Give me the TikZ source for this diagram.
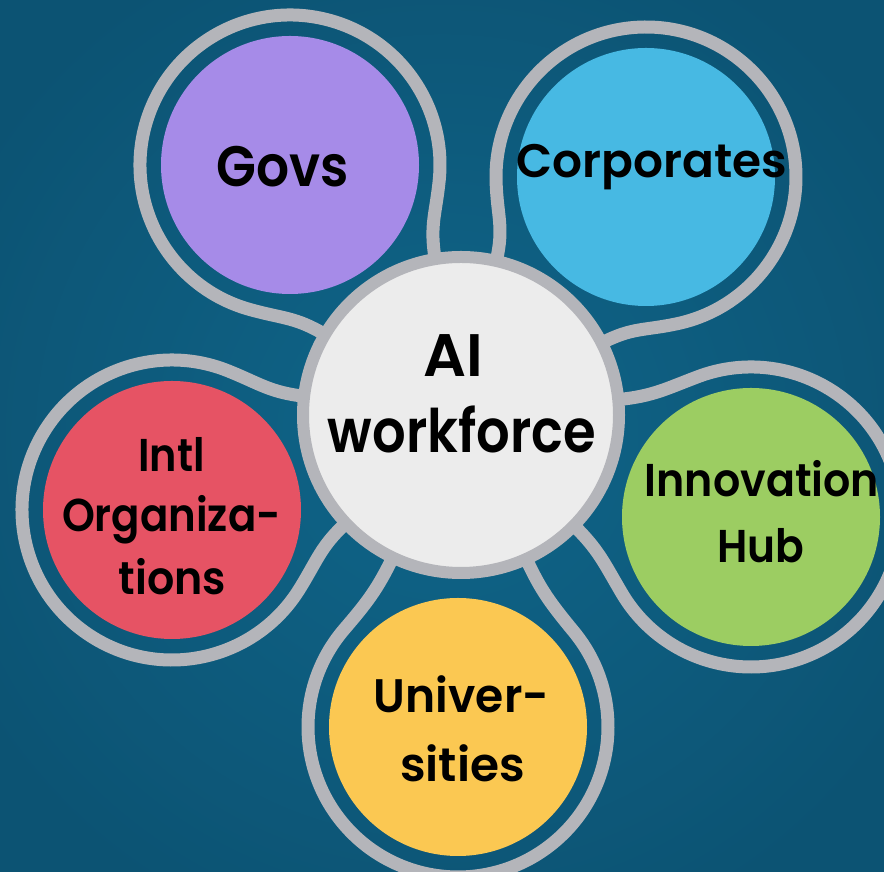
\documentclass[tikz,border=0pt]{standalone}
\usepackage{fontspec}
\setmainfont{Poppins}[UprightFont=* SemiBold, BoldFont=* Bold]
\usetikzlibrary{calc}
\definecolor{bgin}{HTML}{0F6589}
\definecolor{bgout}{HTML}{0C5373}
\definecolor{ringgray}{HTML}{B4B5BA}
\definecolor{centerfill}{HTML}{ECECEC}
\definecolor{cpurple}{HTML}{A68BE8}
\definecolor{ccyan}{HTML}{47B9E3}
\definecolor{cgreen}{HTML}{9CCD62}
\definecolor{cyellow}{HTML}{FBC852}
\definecolor{cred}{HTML}{E65364}
\tikzset{
  ring/.style={draw=ringgray, line width=13pt},
  sat/.style={circle, minimum size=258pt, inner sep=0pt},
  lbl/.style={anchor=base, inner sep=0pt, text=black, transform shape},
}
% #1 satellite coordinate, #2 angle from centre to satellite
\newcommand\satring[2]{%
  \draw[ring] ($(Cc)+(#2+25:158)$)
    .. controls ($(Cc)+(#2+25:193)$) and ($(#1)+(#2+130:150)+(#2+220:35)$)
    .. ($(#1)+(#2+130:150)$)
    arc[start angle=#2+130, delta angle=-260, radius=150]
    .. controls +(#2+140:35) and ($(Cc)+(#2-25:193)$)
    .. ($(Cc)+(#2-25:158)$);%
}
\begin{document}
\begin{tikzpicture}[x=1pt,y=1pt]
\useasboundingbox (0,0) rectangle (884,872);
\clip (0,0) rectangle (884,872);
\shade[inner color=bgin, outer color=bgout] (-100,-100) rectangle (984,972);
\coordinate (Cc) at (461,457);
\coordinate (Gc) at (290,707);
\coordinate (Kc) at (646,695);
\coordinate (Hc) at (751,355);
\coordinate (Uc) at (458,145);
\coordinate (Ic) at (172,362);
\satring{Gc}{124.4}
\satring{Kc}{52.1}
\satring{Hc}{-19.4}
\satring{Uc}{-90.6}
\satring{Ic}{-161.8}
\node[sat, fill=cpurple] (G) at (Gc) {};
\node[sat, fill=ccyan] (K) at (Kc) {};
\node[sat, fill=cgreen] (H) at (Hc) {};
\node[sat, fill=cyellow] (U) at (Uc) {};
\node[sat, fill=cred] (I) at (Ic) {};
\node[circle, minimum size=316pt, inner sep=0pt, draw=ringgray, line width=12pt, fill=centerfill] (C) at (Cc) {};
% labels
\node[lbl, xscale=0.91, font=\fontsize{57}{60}\selectfont] (tG) at (283,685) {Govs};
\node[lbl, font=\fontsize{47}{50}\selectfont] (tK) at (652,694) {Corporates};
\node[lbl, font=\fontsize{60}{62}\selectfont] (tC1) at (453,495) {AI};
\node[lbl, xscale=0.88, font=\fontsize{60}{62}\selectfont] (tC2) at (462,419) {workforce};
\node[lbl, xscale=0.9, font=\fontsize{46}{48}\selectfont] (tI1) at (171.5,400) {Intl};
\node[lbl, xscale=0.91, font=\fontsize{46}{48}\selectfont] (tI2) at (171.5,340) {Organiza-};
\node[lbl, xscale=0.93, font=\fontsize{46}{48}\selectfont] (tI3) at (172.5,277) {tions};
\node[lbl, xscale=0.93, font=\fontsize{46}{48}\selectfont] (tH1) at (762,375) {Innovation};
\node[lbl, xscale=0.92, font=\fontsize{46}{48}\selectfont] (tH2) at (761,309) {Hub};
\node[lbl, xscale=0.97, font=\fontsize{47}{50}\selectfont] (tU1) at (461.5,159) {Univer-};
\node[lbl, font=\fontsize{47}{50}\selectfont] (tU2) at (462.5,90) {sities};
\end{tikzpicture}
\end{document}
